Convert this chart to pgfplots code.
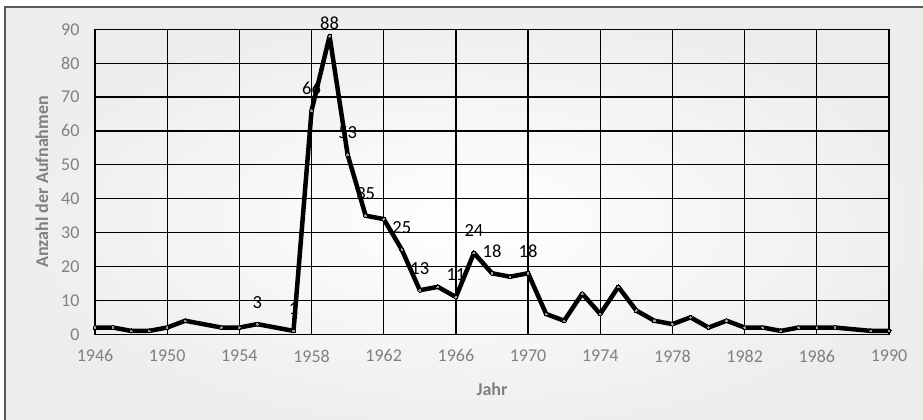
\documentclass[border=0pt]{standalone}
\usepackage{fontspec}
\setmainfont{Carlito}
\usepackage{pgfplots}
\pgfplotsset{compat=1.18}
\definecolor{tickgray}{HTML}{808080}
\definecolor{framegray}{HTML}{5A5A5A}
\definecolor{markgray}{HTML}{9A9A9A}
\tikzset{labelstyle/.style={anchor=center, text=black,
    font=\fontsize{18.5}{20}\selectfont}}

\begin{document}
\begin{tikzpicture}[x=1pt,y=1pt]
\useasboundingbox (0,0) rectangle (923,420);
\shade[inner color=white, outer color=gray!14] (5,-20) rectangle (940,413);
\draw[framegray, line width=1.5pt] (5,-20) -- (5,413) -- (940,413);
\begin{axis}[
  at={(95pt,85.7pt)}, anchor=south west,
  scale only axis, width=794pt, height=305pt,
  xmin=1946, xmax=1990, ymin=0, ymax=90,
  xtick={1946,1950,...,1990}, ytick={0,10,...,90},
  major tick length=0pt,
  grid=major, grid style={black, line width=1.2pt},
  axis line style={black, line width=1.4pt},
  clip=false,
  /pgf/number format/assume math mode=true,
  /pgf/number format/set thousands separator={},
  ticklabel style={font=\fontsize{18}{20}\selectfont, text=tickgray},
  xticklabel style={yshift=-12pt},
  yticklabel style={xshift=-12pt},
  label style={font=\fontsize{18}{20}\selectfont\bfseries, text=tickgray},
  xlabel={Jahr}, ylabel={Anzahl der Aufnahmen},
  xlabel style={at={(axis description cs:0.5,-0.1793)}, anchor=center},
  ylabel style={at={(axis description cs:-0.0668,0.5)}, anchor=center},
]
% data labels (drawn first, line goes over them)
\addplot[draw=none, nodes near coords, point meta=y,
  every node near coord/.style={labelstyle, yshift=22pt}]
  coordinates {
  (1955,3)(1957,1)(1958,66)(1960,53)(1961,35)(1963,25)
  (1964,13)(1966,11)(1967,24)(1968,18)(1970,18)};
\addplot[draw=none, nodes near coords, point meta=y,
  every node near coord/.style={labelstyle, yshift=12.5pt}]
  coordinates {(1959,88)};
\addplot[black, line width=4.5pt, line join=round, mark=*, mark size=2pt,
  mark options={fill=markgray, draw=none, line width=0pt}]
  coordinates {
  (1946,2)(1947,2)(1948,1)(1949,1)(1950,2)(1951,4)(1953,2)(1954,2)
  (1955,3)(1957,1)(1958,66)(1959,88)(1960,53)(1961,35)(1962,34)
  (1963,25)(1964,13)(1965,14)(1966,11)(1967,24)(1968,18)(1969,17)
  (1970,18)(1971,6)(1972,4)(1973,12)(1974,6)(1975,14)(1976,7)
  (1977,4)(1978,3)(1979,5)(1980,2)(1981,4)(1982,2)(1983,2)(1984,1)
  (1985,2)(1986,2)(1987,2)(1989,1)(1990,1)};
\end{axis}
\end{tikzpicture}
\end{document}
